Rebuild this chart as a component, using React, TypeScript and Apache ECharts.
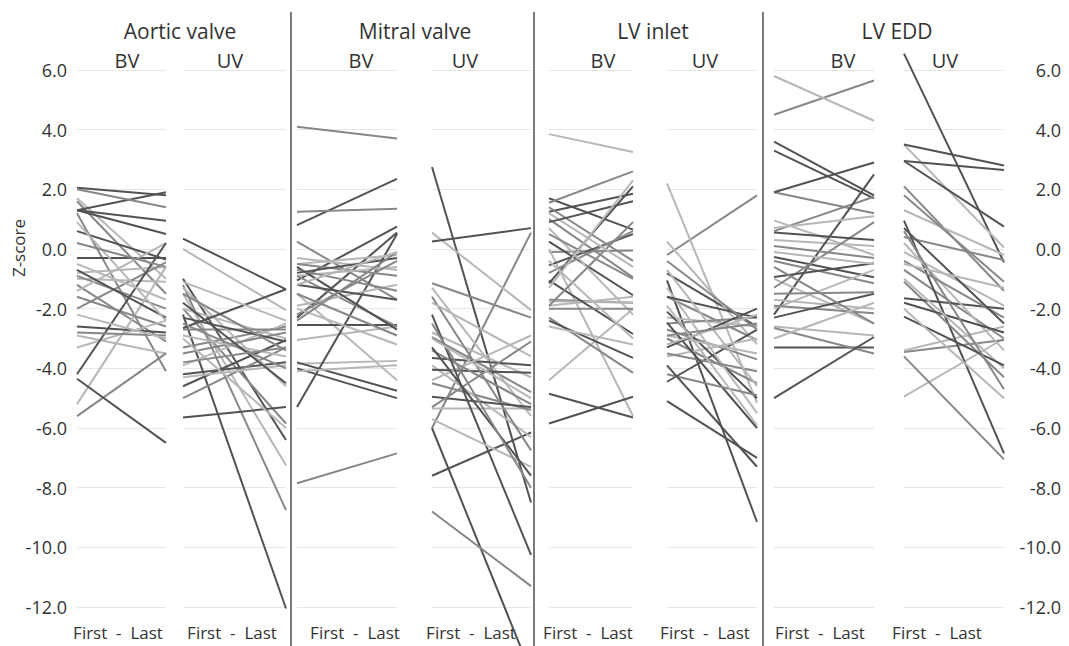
import { useEffect, useRef } from "react";
import * as echarts from "echarts";

// ---------- data ----------
const panelTitles = ["Aortic valve", "Mitral valve", "LV inlet", "LV EDD"];
const groupNames = ["BV", "UV", "BV", "UV", "BV", "UV", "BV", "UV"];
const timeLabel = "First  -  Last";
const yAxisName = "Z-score";
const yMin = -12;
const yMax = 6;
const yStep = 2;

// each row: [first, last]; rows are listed in tone triples (dark, mid, light)
const aorticBV: [number, number][] = [
  [2.05, 1.8], [1.6, -1.5], [1.7, -1.0],
  [1.3, 1.9], [1.2, -4.1], [-1.0, -1.1],
  [1.3, 0.95], [-0.9, -2.0], [-0.8, -0.6],
  [1.3, 0.5], [-1.2, -3.1], [-5.2, -0.6],
  [0.6, -0.35], [-2.0, -0.45], [-2.9, -3.5],
  [-0.3, -0.3], [-1.6, -2.6], [-1.4, 0.2],
  [-0.7, -2.3], [-5.6, -3.5], [0.9, -2.4],
  [-2.6, -2.8], [2.0, 1.4], [-3.3, -2.4],
  [-4.2, 0.2], [-2.8, -2.9], [-0.5, -1.7],
  [-4.35, -6.5], [0.2, -0.6], [-2.2, -3.0],
];

const aorticUV: [number, number][] = [
  [0.35, -1.35], [-1.2, -8.75], [0.0, -2.05],
  [-1.0, -6.4], [-2.0, -5.85], [-1.5, -7.25],
  [-2.2, -12.05], [-3.3, -2.6], [-2.0, -3.0],
  [-4.2, -3.8], [-5.0, -3.3], [-3.9, -2.5],
  [-4.6, -3.05], [-2.7, -2.7], [-1.3, -4.6],
  [-5.65, -5.3], [-3.5, -2.8], [-2.9, -3.6],
  [-2.3, -3.1], [-1.5, -3.4], [-4.3, -3.9],
  [-2.65, -1.35], [-2.5, -4.0], [-3.0, -6.0],
  [-1.8, -4.5], [-3.8, -3.3], [-1.1, -2.4],
];

const mitralBV: [number, number][] = [
  [0.8, 2.35], [4.1, 3.7], [-3.05, -2.6],
  [-1.05, 0.75], [1.25, 1.35], [-3.85, -3.75],
  [-2.3, 0.55], [0.25, -1.7], [-1.5, -4.4],
  [-5.3, 0.5], [-7.85, -6.85], [-0.5, -0.2],
  [-2.55, -2.55], [-0.5, -0.9], [-0.9, -0.6],
  [-3.8, -4.75], [-0.9, -2.6], [-0.3, -0.7],
  [-4.0, -5.0], [-2.2, -0.4], [-1.9, -1.2],
  [-0.6, -2.7], [-0.7, -1.4], [-2.0, -3.2],
  [-0.8, -0.3], [-1.5, -2.9], [-4.1, -3.9],
  [-1.2, -1.7], [-2.4, -0.1], [-1.2, -0.1],
];

const mitralUV: [number, number][] = [
  [2.75, -8.5], [-6.0, 0.55], [0.55, -2.05],
  [0.25, 0.7], [-1.15, -2.3], [-5.35, -5.35],
  [-6.0, -14.2], [-8.8, -11.3], [-2.8, -4.3],
  [-7.6, -6.15], [-2.95, -4.8], [-1.3, -5.6],
  [-3.65, -3.9], [-4.5, -5.4], [-3.9, -6.3],
  [-4.05, -4.15], [-1.6, -6.75], [-4.4, -2.9],
  [-4.95, -5.3], [-3.4, -5.2], [-1.8, -3.6],
  [-2.2, -10.25], [-5.3, -3.1], [-5.7, -7.3],
  [-3.3, -7.6], [-2.5, -8.0], [-3.0, -5.0],
];

const inletBV: [number, number][] = [
  [1.7, 0.65], [1.55, 2.6], [3.85, 3.25],
  [-1.15, 2.1], [1.0, -0.95], [-4.4, -2.0],
  [1.25, 1.85], [-0.1, -0.05], [0.0, -5.6],
  [0.25, -1.55], [-1.7, -1.8], [-1.75, -1.8],
  [-0.55, 0.5], [-2.3, -4.15], [-1.9, -1.6],
  [-1.05, -2.85], [-0.8, 0.6], [0.7, -2.2],
  [-2.4, -3.65], [1.4, -0.4], [-2.6, -3.2],
  [-4.85, -5.65], [-1.9, 0.9], [1.2, -0.6],
  [-5.85, -4.95], [-2.0, -2.0], [-0.4, -3.0],
  [0.9, 1.6], [0.5, -1.0], [-1.3, 2.3],
];

const inletUV: [number, number][] = [
  [-1.05, -9.15], [-0.2, 1.8], [2.2, -5.15],
  [-0.82, -2.6], [-1.6, -3.05], [0.25, -3.2],
  [-4.45, -2.7], [-2.7, -3.7], [-2.3, -2.6],
  [-5.1, -7.0], [-3.0, -4.5], [-3.6, -3.0],
  [-2.1, -5.0], [-2.5, -2.3], [-1.3, -5.5],
  [-1.6, -2.3], [-3.5, -4.1], [-2.9, -3.5],
  [-3.3, -2.0], [-0.4, -2.7], [-0.7, -4.6],
  [-2.47, -6.0], [-4.2, -4.9], [-3.2, -2.2],
  [-3.9, -7.3], [-2.9, -2.5], [-1.9, -5.9],
];

const eddBV: [number, number][] = [
  [3.6, 1.8], [4.5, 5.65], [5.8, 4.3],
  [3.3, 1.7], [1.9, 1.2], [0.96, -0.2],
  [1.9, 2.9], [0.6, 1.75], [0.3, 0.1],
  [-2.2, 2.5], [-0.4, -1.15], [-1.0, -2.5],
  [-0.27, -0.95], [-1.3, 0.9], [-2.0, -0.7],
  [-0.94, -0.48], [-1.9, -2.15], [-2.6, -2.9],
  [-3.3, -3.3], [-2.65, -3.5], [0.7, 1.1],
  [-5.0, -2.95], [0.1, -0.3], [-1.7, -2.0],
  [-2.3, -1.5], [-0.6, -2.5], [-0.1, -0.5],
  [0.55, 0.3], [-1.5, -1.45], [-3.0, -1.8],
];

const eddUV: [number, number][] = [
  [6.55, -0.45], [2.1, -1.4], [3.5, 0.05],
  [3.5, 2.8], [0.4, -0.37], [1.3, -0.2],
  [2.95, 2.65], [-0.7, -3.0], [-4.95, -3.0],
  [2.95, 0.75], [-3.45, -3.05], [-3.4, -2.6],
  [0.95, -6.85], [-1.1, -4.3], [-0.1, -1.9],
  [-1.65, -2.0], [-3.6, -7.05], [0.2, -3.4],
  [-1.8, -2.8], [1.8, -1.1], [-1.0, -4.0],
  [-2.27, -3.9], [-0.4, -2.3], [-2.0, -5.0],
  [0.7, -2.5], [0.6, -4.7], [-0.5, -1.3],
];

const groups = [aorticBV, aorticUV, mitralBV, mitralUV, inletBV, inletUV, eddBV, eddUV];

// ---------- layout / style ----------
const gridLeft = [77, 183, 297, 432, 549, 667, 774, 904];
const gridWidth = [89, 103, 100, 99, 84, 90, 100, 100];
const gridTop = 70;
const gridHeight = 537;
const tones = ["#525252", "#878787", "#b7b7b7"];
const titleX = [180, 415, 653, 897];
const groupNameX = [127, 230, 361, 465, 603, 705, 843, 945];
const timeLabelX = [118, 232, 355, 471, 588, 705, 820, 937];
const dividerX = [291, 534, 763];
const textColor = "#333333";
const font = "'Open Sans', 'Noto Sans', sans-serif";

export default function App() {
  const ref = useRef<HTMLDivElement>(null);

  useEffect(() => {
    if (!ref.current) return;
    const chart = echarts.init(ref.current, undefined, { renderer: "svg" });

    const grids = groups.map((_, i) => ({
      left: gridLeft[i],
      top: gridTop,
      width: gridWidth[i],
      height: gridHeight,
    }));

    const xAxes = groups.map((_, i) => ({
      type: "value",
      gridIndex: i,
      min: 0,
      max: 1,
      show: false,
    }));

    const yAxes = groups.map((_, i) => {
      const showLabel = i === 0 || i === groups.length - 1;
      return {
        type: "value",
        gridIndex: i,
        min: yMin,
        max: yMax,
        interval: yStep,
        position: i === groups.length - 1 ? "right" : "left",
        axisLine: { show: false },
        axisTick: { show: false },
        splitLine: { show: true, lineStyle: { color: "#e6e6e6", width: 1.2 } },
        axisLabel: {
          show: showLabel,
          formatter: (v: number) => v.toFixed(1),
          color: textColor,
          fontFamily: font,
          fontSize: 18,
          margin: i === 0 ? 10 : 57,
          align: "right",
        },
      };
    });

    const series: any[] = [];
    groups.forEach((g, gi) => {
      g.forEach((pair, i) => {
        series.push({
          type: "line",
          xAxisIndex: gi,
          yAxisIndex: gi,
          data: [
            [0, pair[0]],
            [1, pair[1]],
          ],
          symbol: "none",
          clip: false,
          silent: true,
          lineStyle: { color: tones[i % 3], width: 2 },
        });
      });
    });

    const graphics: any[] = [];
    dividerX.forEach((x) => {
      graphics.push({
        type: "line",
        shape: { x1: x, y1: 12, x2: x, y2: 646 },
        style: { stroke: "#7a7a7a", lineWidth: 2 },
        z: 10,
      });
    });
    panelTitles.forEach((t, i) => {
      graphics.push({
        type: "text",
        x: titleX[i],
        y: 31,
        style: {
          text: t,
          fill: textColor,
          font: `21px ${font}`,
          textAlign: "center",
          textVerticalAlign: "middle",
        },
      });
    });
    groupNames.forEach((t, i) => {
      graphics.push({
        type: "text",
        x: groupNameX[i],
        y: 60,
        style: {
          text: t,
          fill: textColor,
          font: `20px ${font}`,
          textAlign: "center",
          textVerticalAlign: "middle",
        },
      });
      graphics.push({
        type: "text",
        x: timeLabelX[i],
        y: 632,
        style: {
          text: timeLabel,
          fill: textColor,
          font: `17px ${font}`,
          textAlign: "center",
          textVerticalAlign: "middle",
        },
      });
    });
    graphics.push({
      type: "text",
      x: 18,
      y: 248,
      rotation: Math.PI / 2,
      style: {
        text: yAxisName,
        fill: textColor,
        font: `17px ${font}`,
        textAlign: "center",
        textVerticalAlign: "middle",
      },
    });

    chart.setOption({
      animation: false,
      backgroundColor: "#ffffff",
      grid: grids,
      xAxis: xAxes,
      yAxis: yAxes,
      series,
      graphic: graphics,
    });

    return () => chart.dispose();
  }, []);

  return (
    <div
      ref={ref}
      style={{ position: "fixed", left: 0, top: 0, width: 1069, height: 646 }}
    />
  );
}
